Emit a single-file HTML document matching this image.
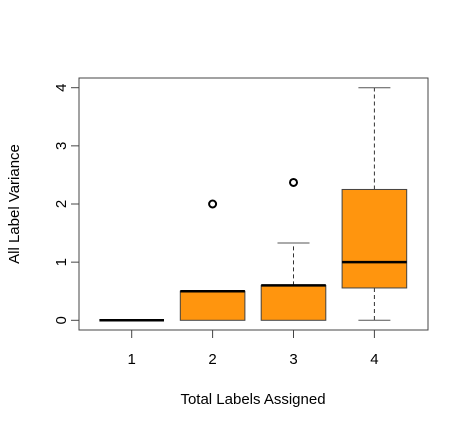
<!DOCTYPE html>
<html><head><meta charset="utf-8"><style>
body{margin:0;background:#fff;}
svg text{font-family:"Liberation Sans",Arial,sans-serif;fill:#000;}
</style></head><body>
<svg width="468" height="428" viewBox="0 0 468 428" id="chart">
<rect x="0" y="0" width="468" height="428" fill="#fff"/>
<rect x="79" y="78" width="349" height="252" fill="none" stroke="#444" stroke-width="1"/>
<text x="253" y="404" font-size="15" text-anchor="middle">Total Labels Assigned</text>
<text transform="translate(19,204) rotate(-90)" font-size="15" text-anchor="middle">All Label Variance</text>
<g id="marks"></g>
</svg>
<script>
const categories=["1","2","3","4"];
const q1s=[0,0,0,0.556];
const medians=[0,0.5,0.6,1.0];
const q3s=[0,0.5,0.6,2.25];
const whiskerLow=[0,0,0,0];
const whiskerHigh=[0,0.5,1.33,4];
const outlierCat=[2,3];
const outlierVal=[2.0,2.37];
const yTicks=[0,1,2,3,4];

const NS="http://www.w3.org/2000/svg";
const g=document.getElementById('marks');
function x(i){return 131.7+(i-1)*80.9;}
function y(v){return 320.3-v*58.15;}
function el(t,a){const e=document.createElementNS(NS,t);for(const k in a)e.setAttribute(k,a[k]);g.appendChild(e);return e;}
const hw=32.3, cw=16;
categories.forEach((c,i)=>{
  const cx=x(i+1);
  if(whiskerHigh[i]>q3s[i]){
    const w=el('line',{x1:cx,x2:cx,y1:y(q3s[i]),y2:y(whiskerHigh[i]),stroke:'#333','stroke-dasharray':'4,3'});
    
    
    const cap=el('line',{x1:cx-cw,x2:cx+cw,y1:y(whiskerHigh[i]),y2:y(whiskerHigh[i]),stroke:'#555'});
    
    
  }
  if(whiskerLow[i]<q1s[i]){
    const w=el('line',{x1:cx,x2:cx,y1:y(q1s[i]),y2:y(whiskerLow[i]),stroke:'#333','stroke-dasharray':'4,3'});
    
    
    const cap=el('line',{x1:cx-cw,x2:cx+cw,y1:y(whiskerLow[i]),y2:y(whiskerLow[i]),stroke:'#555'});
    
    
  }
  if(q3s[i]>q1s[i]){
    const b=el('rect',{x:cx-hw,y:y(q3s[i]),width:2*hw,height:y(q1s[i])-y(q3s[i]),fill:'#ff950e',stroke:'#444'});
    
    
  }
  const m=el('line',{x1:cx-hw,x2:cx+hw,y1:y(medians[i]),y2:y(medians[i]),stroke:'#000','stroke-width':2.5});
  
  
  const t=el('line',{x1:cx,x2:cx,y1:330,y2:338,stroke:'#444'});
  
  
  const l=el('text',{x:cx,y:364,'font-size':15,'text-anchor':'middle'});
  l.textContent=c;
  
  
});
outlierCat.forEach((c,j)=>{
  const o=el('circle',{cx:x(c),cy:y(outlierVal[j]),r:3.5,fill:'none',stroke:'#000','stroke-width':2});
  
  
});
yTicks.forEach(v=>{
  const t=el('line',{x1:71,x2:79,y1:y(v),y2:y(v),stroke:'#444'});
  
  
  const l=el('text',{'font-size':15,'text-anchor':'middle',transform:`translate(66,${y(v)}) rotate(-90)`});
  l.textContent=v;
  
  
});
</script>
</body></html>
